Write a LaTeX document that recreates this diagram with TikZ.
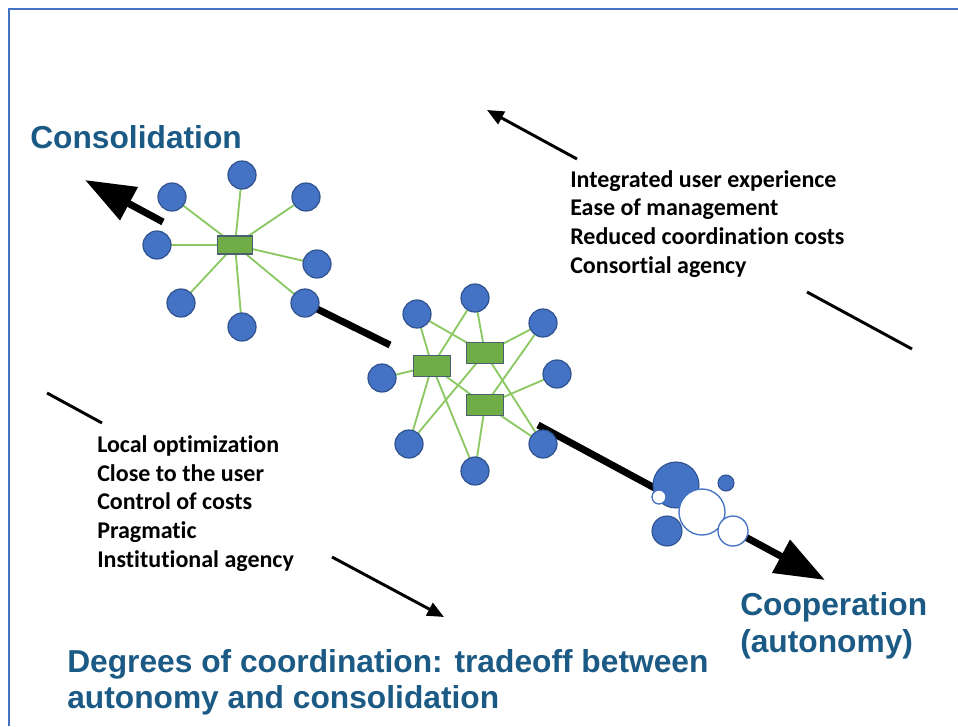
\documentclass[tikz,border=0pt]{standalone}
\usepackage{fontspec}
\setmainfont{Liberation Sans}
\newfontfamily\listfont[Ligatures=NoCommon]{Carlito}
\usetikzlibrary{arrows.meta,backgrounds}
\definecolor{nodeblue}{RGB}{68,114,196}
\definecolor{nodeedge}{RGB}{47,82,143}
\definecolor{boxgreen}{RGB}{112,173,71}
\definecolor{boxedge}{RGB}{72,96,112}
\definecolor{linkgreen}{RGB}{140,200,100}
\definecolor{titleblue}{RGB}{28,90,134}
\definecolor{frameblue}{RGB}{68,114,196}
\begin{document}
\begin{tikzpicture}[x=0.75pt,y=-0.75pt,
  hub/.style={circle, fill=nodeblue, draw=nodeedge, line width=0.9pt, minimum size=21pt, inner sep=0pt},
  lbox/.style={rectangle, fill=boxgreen, draw=boxedge, line width=0.9pt, minimum width=26pt, minimum height=13.5pt, inner sep=0pt},
  cbox/.style={rectangle, fill=boxgreen, draw=boxedge, line width=0.9pt, minimum width=28pt, minimum height=15.5pt, inner sep=0pt},
  link/.style={draw=linkgreen, line width=1.4pt},
  bigarrow/.style={line width=5.25pt, -{Triangle[length=37.5pt,width=27pt]}},
  thickseg/.style={line width=5.25pt},
  thinseg/.style={line width=2.2pt},
  smallarrow/.style={line width=2.2pt, -{Triangle[length=12.5pt,width=10.5pt]}},
  bluebub/.style={circle, fill=nodeblue, draw=nodeedge, line width=0.8pt, inner sep=0pt},
  whitebub/.style={circle, fill=white, draw=nodeblue, line width=1pt, inner sep=0pt},
  title/.style={text=titleblue, font=\fontsize{23.8}{28}\selectfont\bfseries, inner sep=0pt, anchor=base west},
  item/.style={font=\listfont\fontsize{18}{21.5}\selectfont\bfseries, inner sep=0pt, anchor=base west}
]
\useasboundingbox (0,0) rectangle (958,726);
% frame
\coordinate (fbl) at (9,726);
\coordinate (ftl) at (9,9);
\coordinate (ftr) at (958,9);
\draw[frameblue, line width=1.5pt] (fbl) -- (ftl) -- (ftr);

% left cluster
\node[lbox] (L0) at (235,245) {};
\node[hub] (L1) at (242,175) {};
\node[hub] (L2) at (172,197) {};
\node[hub] (L3) at (306,197) {};
\node[hub] (L4) at (157,245) {};
\node[hub] (L5) at (317,264) {};
\node[hub] (L6) at (181,303) {};
\node[hub] (L7) at (305,303) {};
\node[hub] (L8) at (242,327) {};

% center cluster
\node[cbox] (R1) at (432,366) {};
\node[cbox] (R2) at (485,353) {};
\node[cbox] (R3) at (485,405) {};
\node[hub] (A) at (417,314) {};
\node[hub] (B) at (475,298) {};
\node[hub] (C) at (543,323) {};
\node[hub] (D) at (382,378) {};
\node[hub] (E) at (557,374) {};
\node[hub] (F) at (409,444) {};
\node[hub] (G) at (475,471) {};
\node[hub] (H) at (543,444) {};

% bubble cluster
\node[bluebub, minimum size=34.5pt] (bb1) at (676,485) {};
\node[whitebub, minimum size=10.5pt] (wb1) at (659,497) {};
\node[bluebub, minimum size=22.5pt] (bb2) at (667,531) {};
\node[whitebub, minimum size=34.5pt] (wb2) at (702,512) {};
\node[whitebub, minimum size=22.5pt] (wb3) at (733,531) {};
\node[bluebub, minimum size=12pt] (bb3) at (726,483) {};

% coordinates for free ends
\coordinate (tipUL) at (85,180);
\coordinate (startUL) at (163,222);
\coordinate (midEnd) at (390,345);
\coordinate (startLR) at (538,425);
\coordinate (tipLR) at (825,580);
\coordinate (ta1) at (577,159);
\coordinate (ta2) at (487,110);
\coordinate (rs1) at (807,292);
\coordinate (rs2) at (912,349);
\coordinate (ls1) at (47,393);
\coordinate (ls2) at (102,423);
\coordinate (ba1) at (332,557);
\coordinate (ba2) at (444,617);

\begin{pgfonlayer}{background}
  % green links, left cluster
  \foreach \n in {L1,L2,L3,L4,L5,L6,L7,L8} \draw[link] (L0.center) -- (\n.center);
  % green links, center cluster
  \draw[link] (A.center) -- (R1.center);
  \draw[link] (A.center) -- (R2.center);
  \draw[link] (B.center) -- (R1.center);
  \draw[link] (B.center) -- (R2.center);
  \draw[link] (C.center) -- (R2.center);
  \draw[link] (C.center) -- (R3.center);
  \draw[link] (D.center) -- (R1.center);
  \draw[link] (E.center) -- (R3.center);
  \draw[link] (F.center) -- (R1.center);
  \draw[link] (F.center) -- (R2.center);
  \draw[link] (G.center) -- (R1.center);
  \draw[link] (G.center) -- (R3.center);
  \draw[link] (H.center) -- (R2.center);
  \draw[link] (H.center) -- (R3.center);
  \draw[link] (R1.center) -- (R3.center);
  % thick main arrow pieces
  \draw[thickseg] (L7.center) -- (midEnd);
  \draw[bigarrow] (startLR) -- (tipLR);
\end{pgfonlayer}
\draw[bigarrow] (startUL) -- (tipUL);

% thin arrows and segments
\draw[smallarrow] (ta1) -- (ta2);
\draw[thinseg] (rs1) -- (rs2);
\draw[thinseg] (ls1) -- (ls2);
\draw[smallarrow] (ba1) -- (ba2);

% titles
\node[title] (consol) at (30,148) {Consolidation};
\node[title] (coop) at (740,615) {Cooperation};
\node[title] (auton) at (740,652) {(autonomy)};
\node[title] (deg1) at (67,672) {Degrees of coordination: tradeoff between};
\node[title] (deg2) at (67,708) {autonomy and consolidation};

% right list
\node[item] (r1) at (570,187) {Integrated user experience};
\node[item] (r2) at (570,215.5) {Ease of management};
\node[item] (r3) at (570,244) {Reduced coordination costs};
\node[item] (r4) at (570,273) {Consortial agency};

% left list
\node[item] (l1) at (97,452) {Local optimization};
\node[item] (l2) at (97,481) {Close to the user};
\node[item] (l3) at (97,509) {Control of costs};
\node[item] (l4) at (97,538) {Pragmatic};
\node[item] (l5) at (97,567) {Institutional agency};
\end{tikzpicture}
\end{document}
